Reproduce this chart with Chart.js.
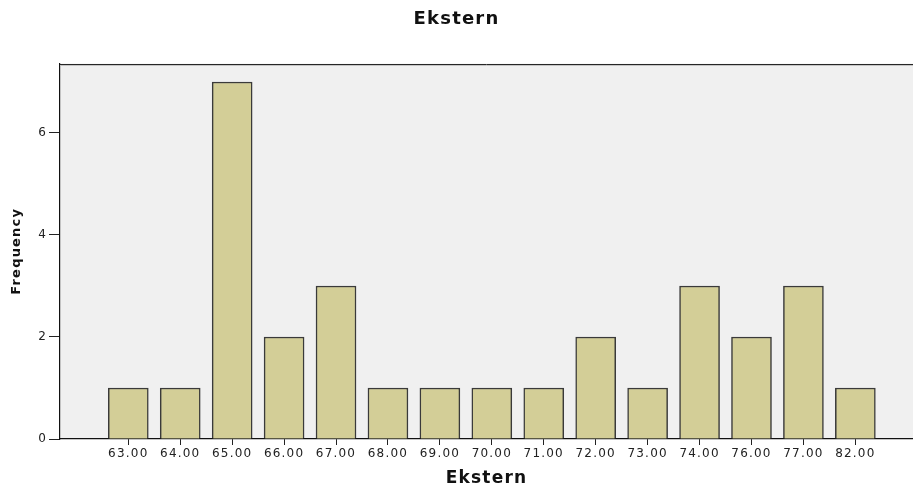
<!DOCTYPE html>
<html>
<head>
<meta charset="utf-8">
<script src="https://cdn.jsdelivr.net/npm/chart.js@4.4.1/dist/chart.umd.min.js"></script>
<style>
  html, body { margin: 0; padding: 0; background: #fff; }
  #wrap { width: 913px; height: 488px; position: relative; }
</style>
</head>
<body>
<div id="wrap"><canvas id="c" width="913" height="488"></canvas></div>
<script>
// ---- data ----
const categories = ["63.00","64.00","65.00","66.00","67.00","68.00","69.00","70.00","71.00","72.00","73.00","74.00","76.00","77.00","82.00"];
const frequencies = [1, 1, 7, 2, 3, 1, 1, 1, 1, 2, 1, 3, 2, 3, 1];
const yTicks = [0, 2, 4, 6];
const chartTitle = "Ekstern";
const xTitle = "Ekstern";
const yTitle = "Frequency";

const points = categories.map((c, i) => ({ x: i, y: frequencies[i] }));

const spacingPlugin = {
  id: 'spacing',
  beforeUpdate(chart) { try { chart.ctx.letterSpacing = '1.2px'; } catch (e) {} },
  beforeDraw(chart) {
    try { chart.ctx.letterSpacing = '1.2px'; } catch (e) {}
    const { ctx, chartArea: a } = chart;
    ctx.save();
    ctx.fillStyle = '#F0F0F0';
    ctx.fillRect(a.left, a.top, a.right - a.left, a.bottom - a.top);
    ctx.restore();
  },
  afterDraw(chart) {
    const { ctx, chartArea: a } = chart;
    const t = Math.round(a.top);
    ctx.save();
    ctx.lineWidth = 1;
    ctx.strokeStyle = '#262626';
    ctx.beginPath();
    ctx.moveTo(a.left, t + 0.5);
    ctx.lineTo(a.right, t + 0.5);
    ctx.stroke();
    ctx.strokeStyle = '#c4c4c4';
    ctx.beginPath();
    ctx.moveTo(a.left, t + 1.5);
    ctx.lineTo(a.right, t + 1.5);
    ctx.stroke();
    ctx.restore();
  }
};

new Chart(document.getElementById('c'), {
  type: 'bar',
  data: {
    datasets: [{
      data: points,
      backgroundColor: '#D3CE97',
      borderColor: '#3a3a3a',
      borderWidth: 1.5,
      barThickness: 40
    }]
  },
  options: {
    responsive: false,
    animation: false,
    events: [],
    layout: { padding: { left: 0, right: 0, top: 0, bottom: 0 } },
    plugins: {
      legend: { display: false },
      tooltip: { enabled: false },
      title: {
        display: true,
        text: chartTitle,
        color: '#111',
        font: { family: 'DejaVu Sans', size: 18, weight: 'bold', lineHeight: 1.2 },
        padding: { top: 9, bottom: 33 }
      }
    },
    scales: {
      x: {
        type: 'linear',
        offset: false,
        min: -1.315,
        max: 15.11,
        afterBuildTicks(scale) { scale.ticks = categories.map((c, i) => ({ value: i })); },
        afterFit(scale) { scale.height = 49; },
        ticks: {
          color: '#222',
          font: { family: 'DejaVu Sans', size: 12 },
          padding: 2,
          maxRotation: 0,
          autoSkip: false,
          callback: (v, i) => categories[i]
        },
        grid: { offset: false, drawOnChartArea: false, drawTicks: true, tickLength: 6, color: '#222', lineWidth: 1 },
        border: { display: true, color: '#111', width: 1.2 },
        title: {
          display: true,
          text: xTitle,
          color: '#111',
          font: { family: 'DejaVu Sans', size: 17, weight: 'bold', lineHeight: 1.05 },
          padding: { top: 0, bottom: 0 }
        }
      },
      y: {
        min: 0,
        max: 7.36,
        afterBuildTicks(scale) { scale.ticks = yTicks.map(v => ({ value: v })); },
        afterFit(scale) { scale.width = 60; },
        ticks: {
          color: '#222',
          font: { family: 'DejaVu Sans', size: 12 },
          padding: 2,
          callback: (v) => String(v)
        },
        grid: { drawOnChartArea: false, drawTicks: true, tickLength: 11, color: '#222', lineWidth: 1 },
        border: { display: true, color: '#111', width: 1.2 },
        title: {
          display: true,
          text: yTitle,
          color: '#111',
          font: { family: 'DejaVu Sans', size: 13, weight: 'bold', lineHeight: 1.2 },
          padding: { top: 9, bottom: 0 }
        }
      }
    }
  },
  plugins: [spacingPlugin]
});
</script>
</body>
</html>
